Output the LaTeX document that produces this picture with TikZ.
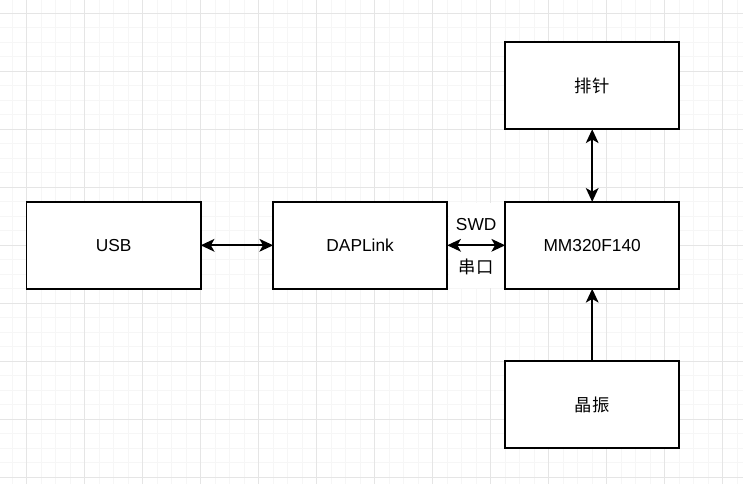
\documentclass[tikz,border=0pt]{standalone}
\usepackage{fontspec}
\setmainfont{Liberation Sans}
\newfontfamily\cjk{Noto Sans CJK SC}
\usetikzlibrary{positioning}
\usetikzlibrary{arrows.meta}
\tikzset{
	every node/.style = {font=\fontsize{17}{20}\selectfont},
	block/.style = {draw=black, line width=1.6pt, fill=white, minimum width=6cm, minimum height=3cm, outer sep=0pt},
	link/.style = {line width=1.6pt, black},
	lbl/.style = {fill=white, minimum width=1.9cm, minimum height=1.45cm, inner sep=0pt}
}

\begin{document}
\begin{tikzpicture}[x=0.5cm, y=0.5cm, >={Stealth[length=13.5pt, width=12.5pt, inset=3.5pt]}]
		% canvas
		\useasboundingbox (-1.84,0.917) rectangle (49.4,-32.46);
		\clip (-1.84,0.917) rectangle (49.4,-32.46);
		\draw[gray!7, line width=0.7pt, step=1] (-2,-33) grid (50,1);
		\draw[gray!20, line width=0.7pt, step=4] (-2,-33) grid (50,1);
		
		% blocks
		\node[block] (usb) at (6,-16) {USB};
		\node[block, right=2.5cm of usb] (dap) {DAPLink};
		\node[block, right=2cm of dap] (mcu) {MM320F140};
		\node[block, above=2.5cm of mcu] (pin) {\cjk 排针};
		\node[block, below=2.5cm of mcu] (osc) {\cjk 晶振};
		
		% links
		\path (dap) -- (mcu)
			node[lbl, midway, anchor=south] (swd) {SWD}
			node[lbl, midway, anchor=north] (uart) {\cjk 串口};
		\draw[link, <->] (usb) -- (dap);
		\draw[link, <->] (dap) -- (mcu);
		\draw[link, <->] (pin) -- (mcu);
		\draw[link, ->] (osc) -- (mcu);
	\end{tikzpicture}
\end{document}
